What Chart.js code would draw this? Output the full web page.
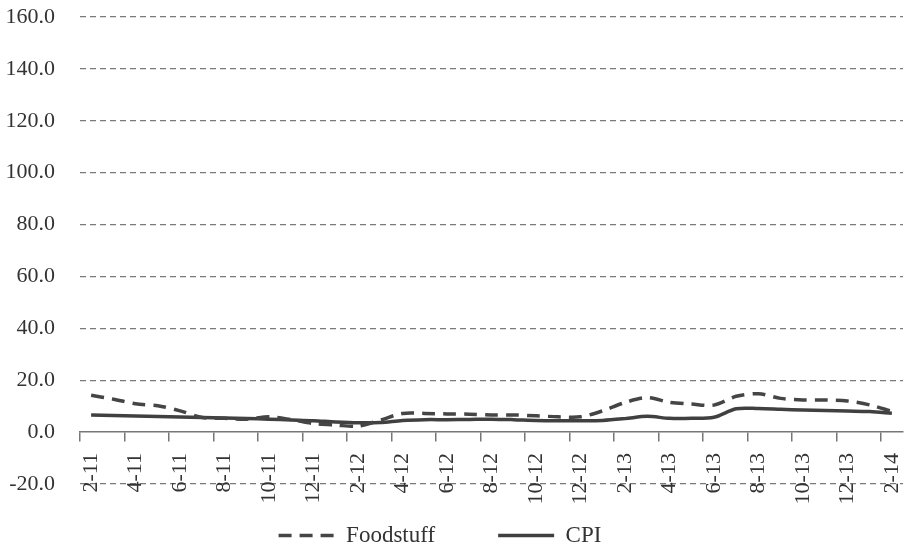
<!DOCTYPE html>
<html lang="en">
  <head>
    <meta charset="UTF-8" />
    <meta name="viewport" content="width=device-width, initial-scale=1.0" />
    <title>Foodstuff and CPI</title>
    <script src="https://cdn.jsdelivr.net/npm/chart.js"></script>
    <style>
      body {
        margin: 0;
        background: #fff;
      }
    </style>
  </head>
  <body>
    <canvas id="myChart" width="909" height="550"></canvas>

    <script>
      // monthly, Feb 2011 - Feb 2014
      const months = [
        "2-11", "3-11", "4-11", "5-11", "6-11", "7-11", "8-11", "9-11", "10-11", "11-11", "12-11",
        "1-12", "2-12", "3-12", "4-12", "5-12", "6-12", "7-12", "8-12", "9-12", "10-12", "11-12", "12-12",
        "1-13", "2-13", "3-13", "4-13", "5-13", "6-13", "7-13", "8-13", "9-13", "10-13", "11-13", "12-13",
        "1-14", "2-14",
      ];
      const foodstuff = [
        14.2, 12.7, 10.9, 10.2, 8.2, 5.6, 5.3, 5.0, 5.9, 4.8,
        3.3, 2.7, 2.3, 4.6, 7.2, 7.2, 7.0, 6.9, 6.6, 6.6,
        6.3, 5.9, 5.9, 8.2, 11.4, 13.3, 11.5, 10.8, 10.4, 13.8,
        14.8, 13.0, 12.4, 12.4, 12.0, 10.5, 8.0,
      ];
      const cpi = [
        6.6, 6.4, 6.2, 6.0, 5.8, 5.6, 5.4, 5.2, 5.0, 4.7,
        4.4, 3.9, 3.6, 3.7, 4.5, 4.8, 4.8, 4.9, 5.0, 4.8,
        4.5, 4.4, 4.4, 4.5, 5.2, 6.1, 5.3, 5.3, 5.7, 9.0,
        9.1, 8.8, 8.5, 8.3, 8.1, 7.9, 7.3,
      ];
      const yMin = -20;
      const yMax = 160;
      const yStep = 20;

      const serif = "'Liberation Serif', 'DejaVu Serif', serif";

      // legend box: fixed height so the plot ends at -20 and the legend sits low
      const legendFit = {
        id: "legendFit",
        beforeInit(chart) {
          const fit = chart.legend.fit;
          chart.legend.fit = function () {
            fit.call(this);
            this.height = 66;
          };
        },
      };

      new Chart(document.getElementById("myChart"), {
        type: "line",
        data: {
          labels: months,
          datasets: [
            {
              label: "Foodstuff",
              data: foodstuff,
              borderColor: "#454545",
              borderWidth: 3.5,
              borderDash: [13, 8],
              pointRadius: 0,
              tension: 0.3,
            },
            {
              label: "CPI",
              data: cpi,
              borderColor: "#404040",
              borderWidth: 3.5,
              pointRadius: 0,
              tension: 0.3,
            },
          ],
        },
        options: {
          responsive: false,
          animation: false,
          layout: {
            padding: { top: 17, right: 6, left: 0, bottom: 0 },
          },
          scales: {
            x: {
              position: { y: 0 },
              offset: true,
              afterFit(scale) {
                scale.paddingLeft = 0;
                scale.paddingRight = 0;
              },
              grid: {
                offset: true,
                drawOnChartArea: false,
                tickLength: 9,
                lineWidth: 1.5,
                color: (c) => (c.index % 2 === 0 ? "#777" : "transparent"),
              },
              border: { color: "#777", width: 1.5 },
              ticks: {
                autoSkip: false,
                minRotation: 90,
                maxRotation: 90,
                padding: 12,
                color: "#333",
                font: { family: serif, size: 22 },
                callback(value, index) {
                  return index % 2 === 0 ? this.getLabelForValue(value) : "";
                },
              },
            },
            y: {
              min: yMin,
              max: yMax,
              afterFit(scale) {
                scale.width = 80;
                scale.paddingTop = 0;
                scale.paddingBottom = 0;
              },
              grid: {
                drawTicks: false,
                lineWidth: 1.2,
                color: (c) => (c.tick && c.tick.value === 0 ? "transparent" : "#7a7a7a"),
              },
              border: { display: false, dash: [6, 4] },
              ticks: {
                stepSize: yStep,
                padding: 25,
                color: "#333",
                font: { family: serif, size: 22 },
                callback: (v) => v.toFixed(1),
              },
            },
          },
          plugins: {
            tooltip: { enabled: false },
            legend: {
              position: "bottom",
              labels: {
                usePointStyle: true,
                pointStyle: "line",
                pointStyleWidth: 56,
                padding: 40,
                color: "#333",
                font: { family: serif, size: 23 },
                generateLabels(chart) {
                  const items = Chart.defaults.plugins.legend.labels.generateLabels(chart);
                  items.forEach((item, i) => {
                    item.lineDash = chart.data.datasets[i].borderDash || [];
                  });
                  // trailing spaces: wider gap between entries, row shifted left
                  items[0].text += "    ";
                  items[1].text += "    ";
                  return items;
                },
              },
            },
          },
        },
        plugins: [legendFit],
      });
    </script>
  </body>
</html>
